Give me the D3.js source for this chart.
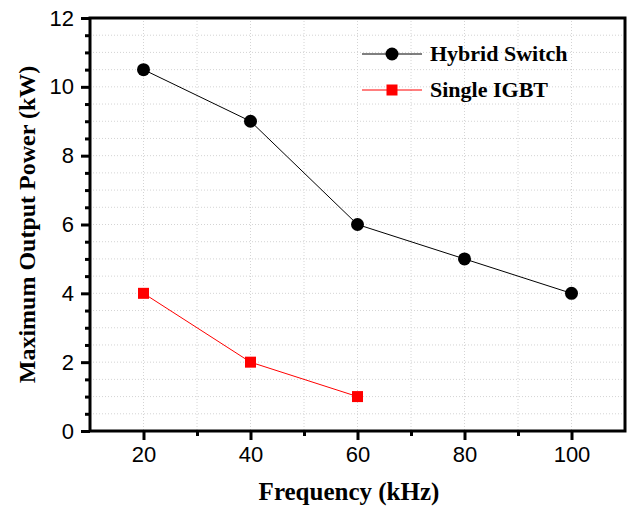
<!DOCTYPE html>
<html>
<head>
<meta charset="utf-8">
<script src="https://cdn.jsdelivr.net/npm/d3@7"></script>
<style>
  body { margin: 0; background: #fff; }
</style>
</head>
<body>
<svg id="chart"></svg>
<script>
// data
const freqs = [20, 40, 60, 80, 100];
const hybridPower = [10.5, 9, 6, 5, 4];
const igbtFreqs = [20, 40, 60];
const igbtPower = [4, 2, 1];
const xTicks = [20, 40, 60, 80, 100];
const yTicks = [0, 2, 4, 6, 8, 10, 12];

const W = 631, H = 511;
const margin = {top: 18, right: 6, bottom: 80, left: 90};
const width = W - margin.left - margin.right,
      height = H - margin.top - margin.bottom;

const svg = d3.select("#chart")
    .attr("width", W)
    .attr("height", H);

const g = svg.append("g")
    .attr("transform", `translate(${margin.left},${margin.top})`);

const x = d3.scaleLinear().domain([10, 110]).range([0, width]);
const y = d3.scaleLinear().domain([0, 12]).range([height, 0]);

// dotted grid
const gx = d3.range(20, 110, 10);
const gy = d3.range(0.5, 12, 0.5);
g.selectAll(".vgrid").data(gx).enter().append("line")
    .attr("x1", d => x(d)).attr("x2", d => x(d))
    .attr("y1", 0).attr("y2", height)
    .attr("stroke", "#d4d4d4").attr("stroke-dasharray", "1,2");
g.selectAll(".hgrid").data(gy).enter().append("line")
    .attr("x1", 0).attr("x2", width)
    .attr("y1", d => y(d)).attr("y2", d => y(d))
    .attr("stroke", "#d4d4d4").attr("stroke-dasharray", "1,2");

// frame
g.append("rect")
    .attr("width", width).attr("height", height)
    .attr("fill", "none").attr("stroke", "black").attr("stroke-width", 3);

// bottom axis
g.append("g")
    .attr("transform", `translate(0,${height})`)
    .call(d3.axisBottom(x).tickValues(xTicks).tickSize(9).tickSizeOuter(0).tickPadding(6));
g.append("g")
    .attr("transform", `translate(0,${height})`)
    .call(d3.axisBottom(x).tickValues([30, 50, 70, 90]).tickSize(5).tickSizeOuter(0).tickFormat(""));

// left axis
g.append("g")
    .call(d3.axisLeft(y).tickValues(yTicks).tickSize(9).tickSizeOuter(0).tickPadding(7));
g.append("g")
    .call(d3.axisLeft(y).tickValues(gy.filter(v => v % 2 !== 0)).tickSize(5).tickSizeOuter(0).tickFormat(""));

svg.selectAll(".domain").remove();
svg.selectAll(".tick line").attr("stroke-width", 3);
svg.selectAll(".tick text")
    .style("font-family", "'Liberation Sans', Arial, sans-serif")
    .style("font-size", "22px")
    .attr("fill", "black");

// axis titles
svg.append("text")
    .attr("x", 349)
    .attr("y", 500)
    .attr("text-anchor", "middle")
    .style("font-family", "'Liberation Serif', 'Times New Roman', serif")
    .style("font-weight", "bold")
    .style("font-size", "25px")
    .text("Frequency (kHz)");

svg.append("text")
    .attr("transform", `translate(35,${margin.top + height / 2}) rotate(-90)`)
    .attr("text-anchor", "middle")
    .style("font-family", "'Liberation Serif', 'Times New Roman', serif")
    .style("font-weight", "bold")
    .style("font-size", "24px")
    .text("Maximum Output Power (kW)");

// series
const hybrid = freqs.map((f, i) => ({f: f, p: hybridPower[i]}));
const igbt = igbtFreqs.map((f, i) => ({f: f, p: igbtPower[i]}));

const line = d3.line().x(d => x(d.f)).y(d => y(d.p));

g.append("path").datum(hybrid)
    .attr("fill", "none").attr("stroke", "black").attr("stroke-width", 1)
    .attr("d", line);
g.selectAll(".hyb").data(hybrid).enter().append("circle")
    .attr("cx", d => x(d.f)).attr("cy", d => y(d.p))
    .attr("r", 6.5).attr("fill", "black");

g.append("path").datum(igbt)
    .attr("fill", "none").attr("stroke", "red").attr("stroke-width", 1)
    .attr("d", line);
g.selectAll(".igbt").data(igbt).enter().append("rect")
    .attr("x", d => x(d.f) - 5.5).attr("y", d => y(d.p) - 5.5)
    .attr("width", 11).attr("height", 11).attr("fill", "red");

// legend
const legend = svg.append("g");
const items = [
    {name: "Hybrid Switch", color: "black", shape: "circle", y: 54},
    {name: "Single IGBT", color: "red", shape: "square", y: 90}
];
items.forEach(it => {
    legend.append("line")
        .attr("x1", 362).attr("x2", 422)
        .attr("y1", it.y).attr("y2", it.y)
        .attr("stroke", it.color).attr("stroke-width", 1);
    if (it.shape === "circle") {
        legend.append("circle").attr("cx", 392).attr("cy", it.y).attr("r", 6.5).attr("fill", it.color);
    } else {
        legend.append("rect").attr("x", 386.5).attr("y", it.y - 5.5)
            .attr("width", 11).attr("height", 11).attr("fill", it.color);
    }
    legend.append("text")
        .attr("x", 430).attr("y", it.y + 7)
        .style("font-family", "'Liberation Serif', 'Times New Roman', serif")
        .style("font-weight", "bold")
        .style("font-size", "22px")
        .text(it.name);
});
</script>
</body>
</html>
